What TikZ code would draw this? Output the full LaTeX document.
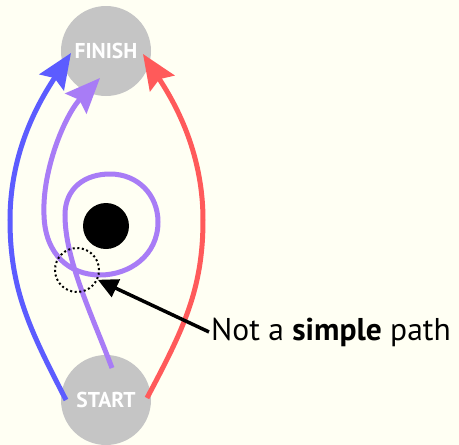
\documentclass[tikz,border=0pt]{standalone}
\usepackage{fontspec}
\setmainfont{PT Sans}
\usetikzlibrary{arrows.meta,calc}
\definecolor{bg}{RGB}{255,255,243}
\definecolor{grey}{RGB}{197,197,197}
\definecolor{pblue}{RGB}{92,92,255}
\definecolor{pred}{RGB}{255,90,90}
\definecolor{ppurple}{RGB}{168,124,246}
\tikzset{
  endpoint/.style={circle,fill=grey,minimum size=90pt,inner sep=0pt,text=white,font=\fontsize{21.5}{21.5}\selectfont\bfseries},
  pathline/.style={line width=5pt,-{Stealth[length=35pt,width=29pt,inset=5pt]}},
  obstacle/.style={circle,fill=black,minimum size=46pt,inner sep=0pt},
  mark circle/.style={circle,draw=black,line width=2pt,dash pattern=on 2pt off 2.6pt,minimum size=44pt,inner sep=0pt},
  note/.style={font=\fontsize{31.5}{31.5}\selectfont,anchor=base west,inner sep=2pt},
}
\begin{document}
\begin{tikzpicture}[x=1pt,y=-1pt]
\fill[bg] (0,0) rectangle (459,445);
\useasboundingbox (0,0) rectangle (459,445);
\node[endpoint] (finish) at (106,51) {FINISH};
\node[endpoint] (start) at (106,400) {START};
\node[obstacle] (hole) at (106,226) {};
\coordinate (bs) at (66,400);
\coordinate (be) at (71,53);
\coordinate (rs) at (147,398);
\coordinate (re) at (143,54);
\coordinate (ps) at (112,368);
\coordinate (pe) at (100,78);
% blue path
\draw[pathline,pblue] (bs) .. controls (30,330) and (10,290) .. (10,220)
  .. controls (10,150) and (40,100) .. (be);
% red path
\draw[pathline,pred] (rs) .. controls (183,330) and (203,290) .. (203,220)
  .. controls (203,150) and (173,100) .. (re);
% purple path with loop
\draw[pathline,ppurple] (ps) .. controls (92,315) and (65,260) .. (65,215)
  .. controls (65,188) and (85,174) .. (110,174)
  .. controls (138,174) and (158,195) .. (158,222)
  .. controls (158,255) and (130,275) .. (100,275)
  .. controls (70,275) and (45,255) .. (44,215)
  .. controls (42,170) and (65,115) .. (pe);
\node[mark circle] (cross) at (77,270) {};
\node[note] (label) at (209,340) {Not a \textbf{simple} path};
\draw[line width=3.5pt,-{Triangle[length=20pt,width=19pt]}] (label.west) -- (cross);
\end{tikzpicture}
\end{document}
